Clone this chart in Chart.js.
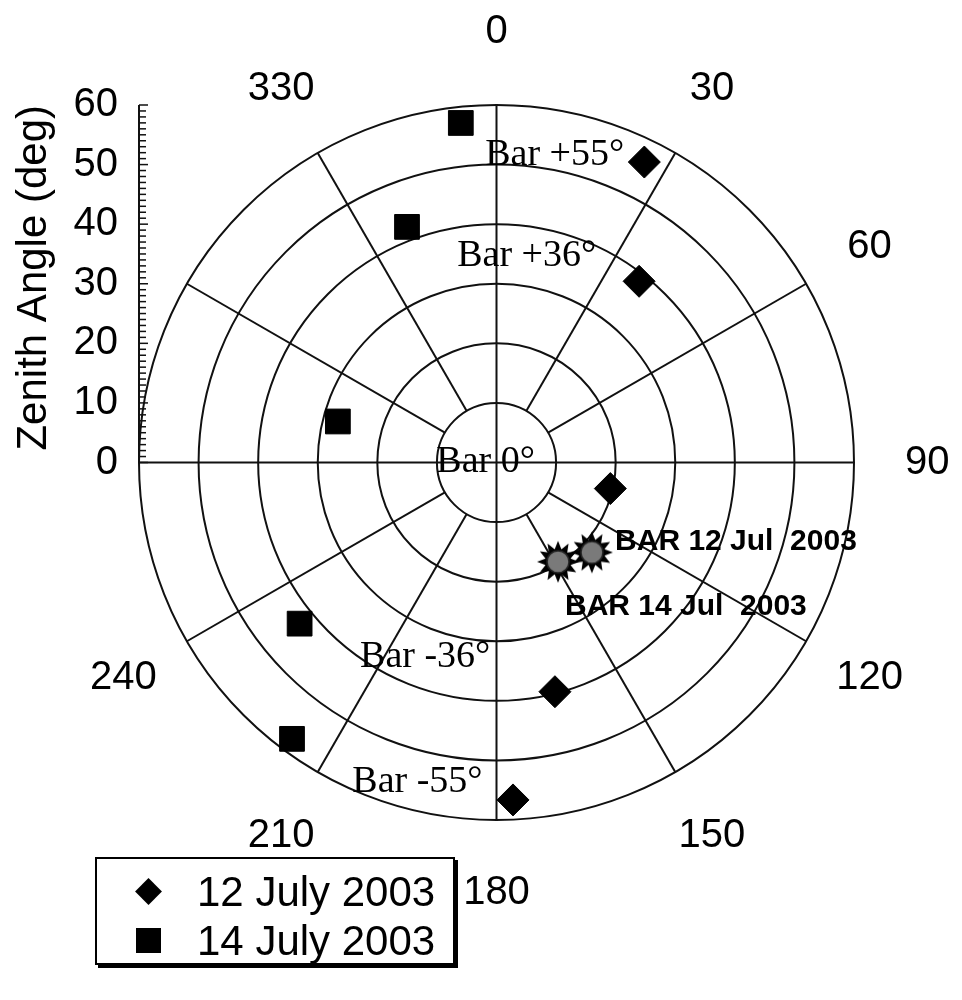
<!DOCTYPE html>
<html>
<head>
<meta charset="utf-8">
<script src="https://cdn.jsdelivr.net/npm/chart.js@4.4.1/dist/chart.umd.min.js"></script>
<style>
    body { margin: 0; background: #fff; }
    #wrap { position: relative; width: 962px; height: 1000px; }
    #legendBox {
        position: absolute; left: 95px; top: 857px; width: 356px; height: 104px;
        border: 2px solid #000; box-shadow: 3px 3px 0 #000; background: #fff;
        font-family: "Liberation Sans", Arial, sans-serif; font-size: 42px; color: #000;
    }
    .row { position: absolute; left: 0; height: 50px; width: 100%; }
    .row span { position: absolute; left: 100px; top: 0; line-height: 50px; }
    .diamond { position: absolute; left: 42px; top: 15px; width: 19px; height: 19px; background: #000; transform: rotate(45deg); }
    .square { position: absolute; left: 39px; top: 12px; width: 25px; height: 25px; background: #000; }
</style>
</head>
<body>
<div id="wrap">
    <canvas id="polarChart" width="962" height="1000"></canvas>
    <div id="legendBox">
        <div class="row" style="top:8px"><div class="diamond"></div><span>12 July 2003</span></div>
        <div class="row" style="top:57px"><div class="square"></div><span>14 July 2003</span></div>
    </div>
</div>
<script>
// 관측 데이터 (zenith = 천정각 deg, azimuth = 방위각 deg)
const zenith12 = [56.2, 38.7, 19.6, 39.7, 56.7];
const azimuth12 = [26.2, 38.2, 102.9, 165.7, 177.2];
const zenith14 = [57.3, 42.3, 27.5, 42.7, 57.7];
const azimuth14 = [354.0, 339.2, 284.5, 230.7, 216.5];

// BAR 위치
const barZenith = [22.0, 19.6];
const barAzimuth = [133.3, 148.2];
const barNames = ['BAR 12 Jul  2003', 'BAR 14 Jul  2003'];

const zenithTicks = [0, 10, 20, 30, 40, 50, 60];
const ringValues = [10, 20, 30, 40, 50, 60];
const azimuthLabels = [0, 30, 60, 90, 120, 150, 180, 210, 240, 330];
const spokeAngles = [30, 60, 120, 150, 210, 240, 300, 330];

const SANS = '"Liberation Sans", Arial, sans-serif';
const SERIF = '"Liberation Serif", "Times New Roman", serif';

function toXY(z, az) {
    const rad = az * Math.PI / 180;
    return { x: z * Math.sin(rad), y: z * Math.cos(rad) };
}

function buildPoints(zs, azs) {
    return zs.map((z, i) => toXY(z, azs[i]));
}

// 별 모양 마커 (회색 원 + 톱니)
function makeSunMarker() {
    const c = document.createElement('canvas');
    c.width = 46; c.height = 46;
    const g = c.getContext('2d');
    const cx = 23, cy = 23, spikes = 12, outer = 21, inner = 13;
    g.beginPath();
    for (let i = 0; i < spikes * 2; i++) {
        const r = i % 2 === 0 ? outer : inner;
        const a = i * Math.PI / spikes - Math.PI / 2;
        const px = cx + r * Math.cos(a), py = cy + r * Math.sin(a);
        if (i === 0) g.moveTo(px, py); else g.lineTo(px, py);
    }
    g.closePath();
    g.fillStyle = '#000';
    g.fill();
    g.beginPath();
    g.arc(cx, cy, 11, 0, Math.PI * 2);
    g.fillStyle = '#7a7a7a';
    g.fill();
    g.lineWidth = 1.5;
    g.strokeStyle = '#222';
    g.stroke();
    return c;
}

// 극좌표 격자 그리기
const polarGrid = {
    id: 'polarGrid',
    beforeDatasetsDraw(chart) {
        const ctx = chart.ctx;
        const xs = chart.scales.x, ys = chart.scales.y;
        const cx = xs.getPixelForValue(0), cy = ys.getPixelForValue(0);
        const unit = (xs.getPixelForValue(60) - cx) / 60;

        ctx.save();
        ctx.strokeStyle = '#111';
        ctx.lineWidth = 2;

        ringValues.forEach(v => {
            ctx.beginPath();
            ctx.arc(cx, cy, v * unit, 0, Math.PI * 2);
            ctx.stroke();
        });

        // 수평/수직 축
        ctx.beginPath();
        ctx.moveTo(xs.getPixelForValue(-60), cy);
        ctx.lineTo(xs.getPixelForValue(60), cy);
        ctx.moveTo(cx, ys.getPixelForValue(60));
        ctx.lineTo(cx, ys.getPixelForValue(-60));
        ctx.stroke();

        spokeAngles.forEach(a => {
            const p1 = toXY(10, a), p2 = toXY(60, a);
            ctx.beginPath();
            ctx.moveTo(xs.getPixelForValue(p1.x), ys.getPixelForValue(p1.y));
            ctx.lineTo(xs.getPixelForValue(p2.x), ys.getPixelForValue(p2.y));
            ctx.stroke();
        });

        // 왼쪽 천정각 축선 + 눈금
        const ax = chart.chartArea.left;
        ctx.beginPath();
        ctx.moveTo(ax, ys.getPixelForValue(60));
        ctx.lineTo(ax, ys.getPixelForValue(0));
        ctx.stroke();
        ctx.lineWidth = 1.5;
        for (let v = 0; v <= 60; v++) {
            const py = ys.getPixelForValue(v);
            ctx.beginPath();
            ctx.moveTo(ax, py);
            ctx.lineTo(ax + (v % 10 === 0 ? 9 : 7), py);
            ctx.stroke();
        }

        // 방위각 라벨
        ctx.fillStyle = '#000';
        ctx.font = '40px ' + SANS;
        ctx.textAlign = 'center';
        ctx.textBaseline = 'middle';
        azimuthLabels.forEach(a => {
            const p = toXY(72.3, a);
            ctx.fillText(String(a), xs.getPixelForValue(p.x), ys.getPixelForValue(p.y));
        });

        // 주석 텍스트
        const notes = [
            { t: 'Bar +55°', x: -1.9, y: 50.0 },
            { t: 'Bar +36°', x: -6.6, y: 32.9 },
            { t: 'Bar 0°', x: -10.1, y: -1.6 },
            { t: 'Bar -36°', x: -22.9, y: -34.3 },
            { t: 'Bar -55°', x: -24.2, y: -55.3 }
        ];
        ctx.textAlign = 'left';
        ctx.textBaseline = 'alphabetic';
        ctx.font = '38px ' + SERIF;
        notes.forEach(n => {
            ctx.fillText(n.t, xs.getPixelForValue(n.x), ys.getPixelForValue(n.y));
        });
        ctx.font = 'bold 30px ' + SANS;
        ctx.fillText(barNames[0], xs.getPixelForValue(19.9), ys.getPixelForValue(-14.7));
        ctx.fillText(barNames[1], xs.getPixelForValue(11.5), ys.getPixelForValue(-25.6));
        ctx.restore();
    }
};

const sun = makeSunMarker();

const ctx1 = document.getElementById('polarChart').getContext('2d');
new Chart(ctx1, {
    type: 'scatter',
    data: {
        datasets: [{
            label: '12 July 2003',
            data: buildPoints(zenith12, azimuth12),
            pointStyle: 'rectRot',
            pointRadius: 16,
            backgroundColor: '#000',
            borderColor: '#000',
            borderWidth: 1
        }, {
            label: '14 July 2003',
            data: buildPoints(zenith14, azimuth14),
            pointStyle: 'rect',
            pointRadius: 17.5,
            backgroundColor: '#000',
            borderColor: '#000',
            borderWidth: 1
        }, {
            label: barNames[1],
            data: [toXY(barZenith[1], barAzimuth[1])],
            pointStyle: sun
        }, {
            label: barNames[0],
            data: [toXY(barZenith[0], barAzimuth[0])],
            pointStyle: sun
        }]
    },
    options: {
        responsive: false,
        animation: false,
        layout: {
            padding: { left: 0, right: 108, top: 105, bottom: 180 }
        },
        plugins: {
            legend: { display: false },
            tooltip: { enabled: false }
        },
        scales: {
            x: {
                type: 'linear',
                min: -60,
                max: 60,
                display: false
            },
            y: {
                type: 'linear',
                min: -60,
                max: 60,
                afterFit: function (scale) {
                    scale.width = 139;
                },
                grid: { display: false, drawTicks: false },
                border: { display: false },
                ticks: {
                    stepSize: 10,
                    autoSkip: false,
                    padding: 21,
                    color: '#000',
                    font: { family: SANS, size: 40 },
                    callback: function (value) {
                        return zenithTicks.includes(value) ? String(value) : '';
                    }
                },
                title: {
                    display: true,
                    text: 'Zenith Angle (deg)',
                    align: 'end',
                    color: '#000',
                    padding: { top: 9, bottom: 0 },
                    font: { family: SANS, size: 42, weight: 'normal' }
                }
            }
        }
    },
    plugins: [polarGrid]
});
</script>
</body>
</html>
